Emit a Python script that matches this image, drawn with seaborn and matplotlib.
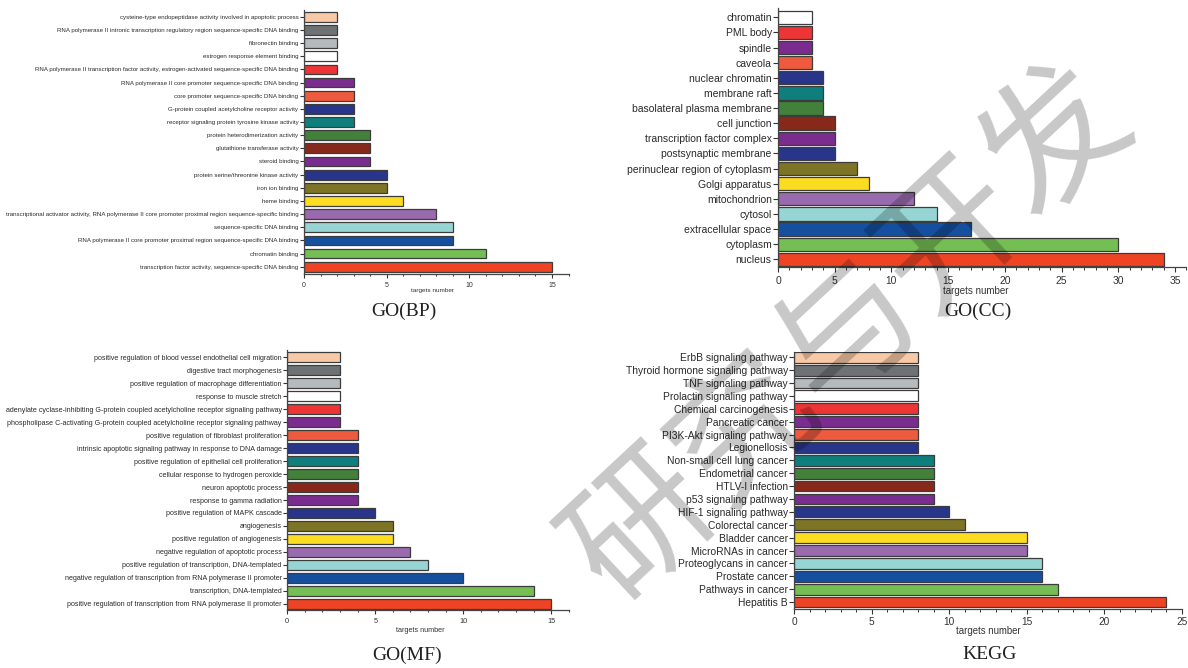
import matplotlib
matplotlib.use("Agg")
import matplotlib.pyplot as plt
from matplotlib.ticker import MultipleLocator
import seaborn as sns
import pandas as pd

# ---- data (terms listed top to bottom as drawn) ----
bp_terms = [
    "cysteine-type endopeptidase activity involved in apoptotic process",
    "RNA polymerase II intronic transcription regulatory region sequence-specific DNA binding",
    "fibronectin binding",
    "estrogen response element binding",
    "RNA polymerase II transcription factor activity, estrogen-activated sequence-specific DNA binding",
    "RNA polymerase II core promoter sequence-specific DNA binding",
    "core promoter sequence-specific DNA binding",
    "G-protein coupled acetylcholine receptor activity",
    "receptor signaling protein tyrosine kinase activity",
    "protein heterodimerization activity",
    "glutathione transferase activity",
    "steroid binding",
    "protein serine/threonine kinase activity",
    "iron ion binding",
    "heme binding",
    "transcriptional activator activity, RNA polymerase II core promoter proximal region sequence-specific binding",
    "sequence-specific DNA binding",
    "RNA polymerase II core promoter proximal region sequence-specific DNA binding",
    "chromatin binding",
    "transcription factor activity, sequence-specific DNA binding",
]
bp_counts = [2, 2, 2, 2, 2, 3, 3, 3, 3, 4, 4, 4, 5, 5, 6, 8, 9, 9, 11, 15]

cc_terms = [
    "chromatin", "PML body", "spindle", "caveola", "nuclear chromatin",
    "membrane raft", "basolateral plasma membrane", "cell junction",
    "transcription factor complex", "postsynaptic membrane",
    "perinuclear region of cytoplasm", "Golgi apparatus", "mitochondrion",
    "cytosol", "extracellular space", "cytoplasm", "nucleus",
]
cc_counts = [3, 3, 3, 3, 4, 4, 4, 5, 5, 5, 7, 8, 12, 14, 17, 30, 34]

mf_terms = [
    "positive regulation of blood vessel endothelial cell migration",
    "digestive tract morphogenesis",
    "positive regulation of macrophage differentiation",
    "response to muscle stretch",
    "adenylate cyclase-inhibiting G-protein coupled acetylcholine receptor signaling pathway",
    "phospholipase C-activating G-protein coupled acetylcholine receptor signaling pathway",
    "positive regulation of fibroblast proliferation",
    "intrinsic apoptotic signaling pathway in response to DNA damage",
    "positive regulation of epithelial cell proliferation",
    "cellular response to hydrogen peroxide",
    "neuron apoptotic process",
    "response to gamma radiation",
    "positive regulation of MAPK cascade",
    "angiogenesis",
    "positive regulation of angiogenesis",
    "negative regulation of apoptotic process",
    "positive regulation of transcription, DNA-templated",
    "negative regulation of transcription from RNA polymerase II promoter",
    "transcription, DNA-templated",
    "positive regulation of transcription from RNA polymerase II promoter",
]
mf_counts = [3, 3, 3, 3, 3, 3, 4, 4, 4, 4, 4, 4, 5, 6, 6, 7, 8, 10, 14, 15]

kegg_terms = [
    "ErbB signaling pathway", "Thyroid hormone signaling pathway",
    "TNF signaling pathway", "Prolactin signaling pathway",
    "Chemical carcinogenesis", "Pancreatic cancer",
    "PI3K-Akt signaling pathway", "Legionellosis",
    "Non-small cell lung cancer", "Endometrial cancer", "HTLV-I infection",
    "p53 signaling pathway", "HIF-1 signaling pathway", "Colorectal cancer",
    "Bladder cancer", "MicroRNAs in cancer", "Proteoglycans in cancer",
    "Prostate cancer", "Pathways in cancer", "Hepatitis B",
]
kegg_counts = [8, 8, 8, 8, 8, 8, 8, 8, 9, 9, 9, 9, 10, 11, 15, 15, 16, 16, 17, 24]

panel_titles = ["GO(BP)", "GO(CC)", "GO(MF)", "KEGG"]
x_label = "targets number"

# bar fill colours, starting from the bottom bar and going up
bar_colors = [
    "#ee4423", "#74be54", "#1550a0", "#97d5d5", "#9a6aae",
    "#fbdc21", "#7d7425", "#28358a", "#7a2d8f", "#88281a",
    "#43803c", "#0f7f7d", "#28358a", "#ee5a3e", "#7a2d8f",
    "#ee3535", "#ffffff", "#b5babd", "#6f7274", "#f8c9a6",
]

W, H = 1188, 668
sns.set_style("ticks")
plt.rcParams["font.family"] = ["Liberation Sans", "DejaVu Sans"]

fig = plt.figure(figsize=(W / 100, H / 100), dpi=100)
fig.patch.set_facecolor("white")


def axes_px(left, top, right, bottom):
    return fig.add_axes([left / W, 1 - bottom / H, (right - left) / W, (bottom - top) / H])


panels = [
    dict(terms=bp_terms, counts=bp_counts, box=(304, 9.5, 568.5, 274), xmax=16,
         ylim=(19.55, -0.55), lab=4.4, tick=5.0, xl=4.6, xl_pos=(432.7, 290.7),
         title_pos=(404, 311.7), width=0.74, tl=3.0),
    dict(terms=cc_terms, counts=cc_counts, box=(778, 8.2, 1186.3, 267.3), xmax=36,
         ylim=(16.53, -0.6), lab=7.5, tick=7.4, xl=7.0, xl_pos=(975.5, 290.7),
         title_pos=(978, 311.7), width=0.88, tl=3.5),
    dict(terms=mf_terms, counts=mf_counts, box=(287.3, 350.2, 568.7, 610), xmax=16,
         ylim=(19.48, -0.55), lab=5.15, tick=5.3, xl=5.2, xl_pos=(420.7, 630),
         title_pos=(406.7, 655), width=0.78, tl=3.0),
    dict(terms=kegg_terms, counts=kegg_counts, box=(794, 351.7, 1182, 609), xmax=25,
         ylim=(19.54, -0.43), lab=7.35, tick=7.3, xl=6.9, xl_pos=(988, 630.6),
         title_pos=(990, 654.5), width=0.84, tl=3.5),
]

for spec, title in zip(panels, panel_titles):
    ax = axes_px(*spec["box"])
    n = len(spec["terms"])
    colors = bar_colors[:n][::-1]
    df = pd.DataFrame({"term": spec["terms"], "count": spec["counts"]})
    sns.barplot(data=df, x="count", y="term", hue="term", palette=colors,
                legend=False, orient="h", width=spec["width"], ax=ax,
                edgecolor="#3c3c3c", linewidth=0.9, saturation=1)
    ax.set_xlim(0, spec["xmax"])
    ax.set_ylim(*spec["ylim"])
    ax.set_ylabel("")
    ax.xaxis.set_major_locator(MultipleLocator(5))
    ax.xaxis.set_minor_locator(MultipleLocator(1))
    ax.tick_params(axis="x", which="major", length=spec["tl"], width=0.8,
                   color="#333333", labelsize=spec["tick"], labelcolor="#333333", pad=2.5)
    ax.tick_params(axis="x", which="minor", length=spec["tl"] * 0.6, width=0.7,
                   color="#333333")
    ax.tick_params(axis="y", length=spec["tl"], width=0.8, color="#333333",
                   labelsize=spec["lab"], labelcolor="#2a2a2a", pad=1)
    for side in ("top", "right"):
        ax.spines[side].set_visible(False)
    for side in ("left", "bottom"):
        ax.spines[side].set_color("#444444")
        ax.spines[side].set_linewidth(0.9)
    ax.set_facecolor("white")

    ax.set_xlabel(x_label, fontsize=spec["xl"], color="#333333")
    xl_x, xl_y = spec["xl_pos"]
    ax.xaxis.set_label_coords(xl_x / W, 1 - xl_y / H, transform=fig.transFigure)
    ax.xaxis.label.set_va("center")

    tx, ty = spec["title_pos"]
    fig.text(tx / W, 1 - ty / H, title, ha="center", va="center",
             fontsize=14, family="Liberation Serif", color="#222222")

# diagonal publisher watermark across the right half
fig.text(850 / W, 1 - 334 / H, "研究与开发", rotation=43, ha="center", va="center",
         fontsize=102, fontweight="normal", family=["Noto Sans CJK SC", "DejaVu Sans"],
         color="black", alpha=0.22, zorder=20)

fig.savefig("out.png", dpi=100, facecolor="white")
